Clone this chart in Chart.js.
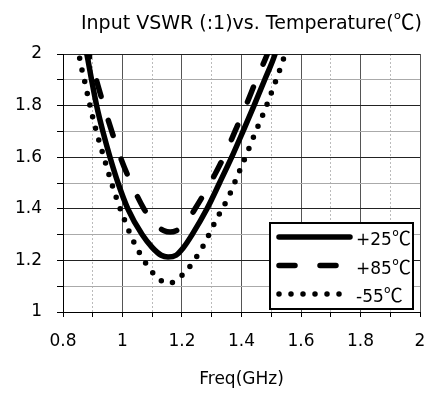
<!DOCTYPE html>
<html>
<head>
<meta charset="utf-8">
<script src="https://cdn.jsdelivr.net/npm/chart.js@4.4.0/dist/chart.umd.min.js"></script>
<style>
  body { margin: 0; background: #fff; }
  #wrap { width: 426px; height: 397px; }
</style>
</head>
<body>
<div id="wrap"><canvas id="vswrChart" width="426" height="397"></canvas></div>
<script>
// values
const chartTitle = 'Input VSWR (:1)vs. Temperature(℃)';
const seriesNames = ['+25℃', '+85℃', '-55℃'];

const freq25 = [0.870, 0.880, 0.896, 0.913, 0.934, 0.958, 0.985, 1.018, 1.066, 1.100, 1.130, 1.153, 1.180, 1.205, 1.234, 1.284, 1.326, 1.367, 1.405, 1.442, 1.478, 1.513, 1.525];
const vswr25 = [2.05, 2.00, 1.90, 1.80, 1.70, 1.60, 1.50, 1.40, 1.30, 1.25, 1.22, 1.213, 1.22, 1.25, 1.30, 1.40, 1.50, 1.60, 1.70, 1.80, 1.90, 2.00, 2.05];

const freq85 = [0.880, 0.887, 0.912, 0.937, 0.964, 0.993, 1.029, 1.072, 1.110, 1.140, 1.160, 1.180, 1.210, 1.244, 1.295, 1.340, 1.378, 1.415, 1.450, 1.487, 1.500];
const vswr85 = [2.05, 2.00, 1.90, 1.80, 1.70, 1.60, 1.50, 1.40, 1.34, 1.315, 1.31, 1.315, 1.34, 1.40, 1.50, 1.60, 1.70, 1.80, 1.90, 2.00, 2.04];

const freqM55 = [0.850, 0.857, 0.874, 0.891, 0.910, 0.932, 0.955, 0.978, 1.006, 1.036, 1.075, 1.110, 1.153, 1.191, 1.220, 1.243, 1.264, 1.283, 1.317, 1.356, 1.386, 1.417, 1.447, 1.477, 1.505, 1.533, 1.555];
const vswrM55 = [2.03, 1.977, 1.888, 1.798, 1.709, 1.621, 1.531, 1.447, 1.359, 1.276, 1.195, 1.142, 1.110, 1.133, 1.167, 1.204, 1.241, 1.282, 1.362, 1.445, 1.527, 1.611, 1.697, 1.779, 1.864, 1.953, 2.03];

const FONT = 'DejaVu Sans';
const CJK = 'Noto Sans CJK JP';

function pts(xs, ys) {
    return xs.map((x, i) => ({ x: x, y: ys[i] }));
}

function isMajor(v) {
    return Math.round(v * 10) % 2 === 0;
}

// draw text, with the degree sign taken from the CJK font like the original
function mixedParts(ctx, text, size) {
    return text.split(/(℃)/).filter(s => s).map(s => {
        ctx.font = s === '℃' ? Math.round(size * 1.1) + 'px "' + CJK + '"' : size + 'px "' + FONT + '"';
        return { s: s, font: ctx.font, w: ctx.measureText(s).width };
    });
}
function drawMixed(ctx, text, x, y, size, align) {
    const parts = mixedParts(ctx, text, size);
    const total = parts.reduce((a, p) => a + p.w, 0);
    let cx = align === 'right' ? x - total : (align === 'center' ? x - total / 2 : x);
    ctx.textAlign = 'left';
    ctx.textBaseline = 'alphabetic';
    parts.forEach(p => {
        ctx.font = p.font;
        ctx.fillText(p.s, cx, y);
        cx += p.w;
    });
}

const titleText = {
    id: 'titleText',
    afterDraw(chart) {
        const ctx = chart.ctx;
        ctx.save();
        ctx.fillStyle = '#000';
        drawMixed(ctx, chartTitle, chart.chartArea.right + 2, 29, 19, 'right');
        ctx.restore();
    }
};

// boxed legend in the lower right corner of the plot
const boxLegend = {
    id: 'boxLegend',
    afterDraw(chart) {
        const ctx = chart.ctx;
        const area = chart.chartArea;
        const w = 143, h = 86;
        const x = area.right - 7 - w;
        const y = area.bottom - 3 - h;
        ctx.save();
        ctx.fillStyle = '#fff';
        ctx.fillRect(x, y, w, h);
        ctx.lineWidth = 2;
        ctx.strokeStyle = '#000';
        ctx.setLineDash([]);
        ctx.strokeRect(x, y, w, h);
        chart.data.datasets.forEach((ds, i) => {
            const ry = y + 14 + i * 28.5;
            ctx.beginPath();
            ctx.lineWidth = ds.borderWidth;
            ctx.lineCap = 'round';
            ctx.setLineDash(ds.borderDash || []);
            ctx.moveTo(x + 9, ry);
            ctx.lineTo(x + 80, ry);
            ctx.stroke();
            ctx.setLineDash([]);
            ctx.fillStyle = '#000';
            drawMixed(ctx, ds.label, x + 86, ry + 8, 17, 'left');
        });
        ctx.restore();
    }
};

const ctx = document.getElementById('vswrChart').getContext('2d');
new Chart(ctx, {
    type: 'line',
    data: {
        datasets: [
            {
                label: seriesNames[0],
                data: pts(freq25, vswr25),
                borderColor: '#000',
                borderWidth: 5.5,
                borderCapStyle: 'round',
                pointRadius: 0,
                cubicInterpolationMode: 'monotone',
                clip: 0
            },
            {
                label: seriesNames[1],
                data: pts(freq85, vswr85),
                borderColor: '#000',
                borderWidth: 5.5,
                borderDash: [16, 25],
                borderCapStyle: 'round',
                pointRadius: 0,
                cubicInterpolationMode: 'monotone',
                clip: 0
            },
            {
                label: seriesNames[2],
                data: pts(freqM55, vswrM55),
                borderColor: '#000',
                borderWidth: 5.5,
                borderDash: [0, 12],
                borderCapStyle: 'round',
                pointRadius: 0,
                cubicInterpolationMode: 'monotone',
                clip: 0
            }
        ]
    },
    options: {
        responsive: false,
        animation: false,
        layout: { padding: { left: 0, right: 6, top: 54, bottom: 0 } },
        plugins: {
            legend: { display: false },
            tooltip: { enabled: false },
            title: { display: false }
        },
        scales: {
            x: {
                type: 'linear',
                min: 0.8,
                max: 2.0,
                afterFit(scale) {
                    scale.height = 85;
                    scale.paddingLeft = 0;
                    scale.paddingRight = 0;
                },
                ticks: {
                    stepSize: 0.1,
                    color: '#000',
                    padding: 14,
                    maxRotation: 0,
                    autoSkip: false,
                    font: { family: FONT, size: 17 },
                    callback: v => isMajor(v) ? String(Math.round(v * 10) / 10) : ''
                },
                grid: {
                    color: c => isMajor(c.tick.value) ? '#555' : '#bbb',
                    lineWidth: 1,
                    tickLength: 5,
                    tickColor: '#000'
                },
                border: {
                    color: '#000',
                    width: 1,
                    dash: c => (c.tick && !isMajor(c.tick.value)) ? [2, 2] : []
                },
                title: {
                    display: true,
                    text: 'Freq(GHz)',
                    color: '#000',
                    font: { family: FONT, size: 17 },
                    padding: { top: 0, bottom: 7 }
                }
            },
            y: {
                min: 1,
                max: 2,
                afterFit(scale) {
                    scale.width = 63;
                    scale.paddingTop = 0;
                    scale.paddingBottom = 0;
                },
                ticks: {
                    stepSize: 0.1,
                    color: '#000',
                    padding: 15,
                    autoSkip: false,
                    font: { family: FONT, size: 17 },
                    callback: v => isMajor(v) ? String(Math.round(v * 10) / 10) : ''
                },
                grid: {
                    color: c => isMajor(c.tick.value) ? '#222' : '#aaa',
                    lineWidth: 1,
                    tickLength: 6,
                    tickColor: '#000'
                },
                border: { color: '#000', width: 1 }
            }
        }
    },
    plugins: [titleText, boxLegend]
});
</script>
</body>
</html>
